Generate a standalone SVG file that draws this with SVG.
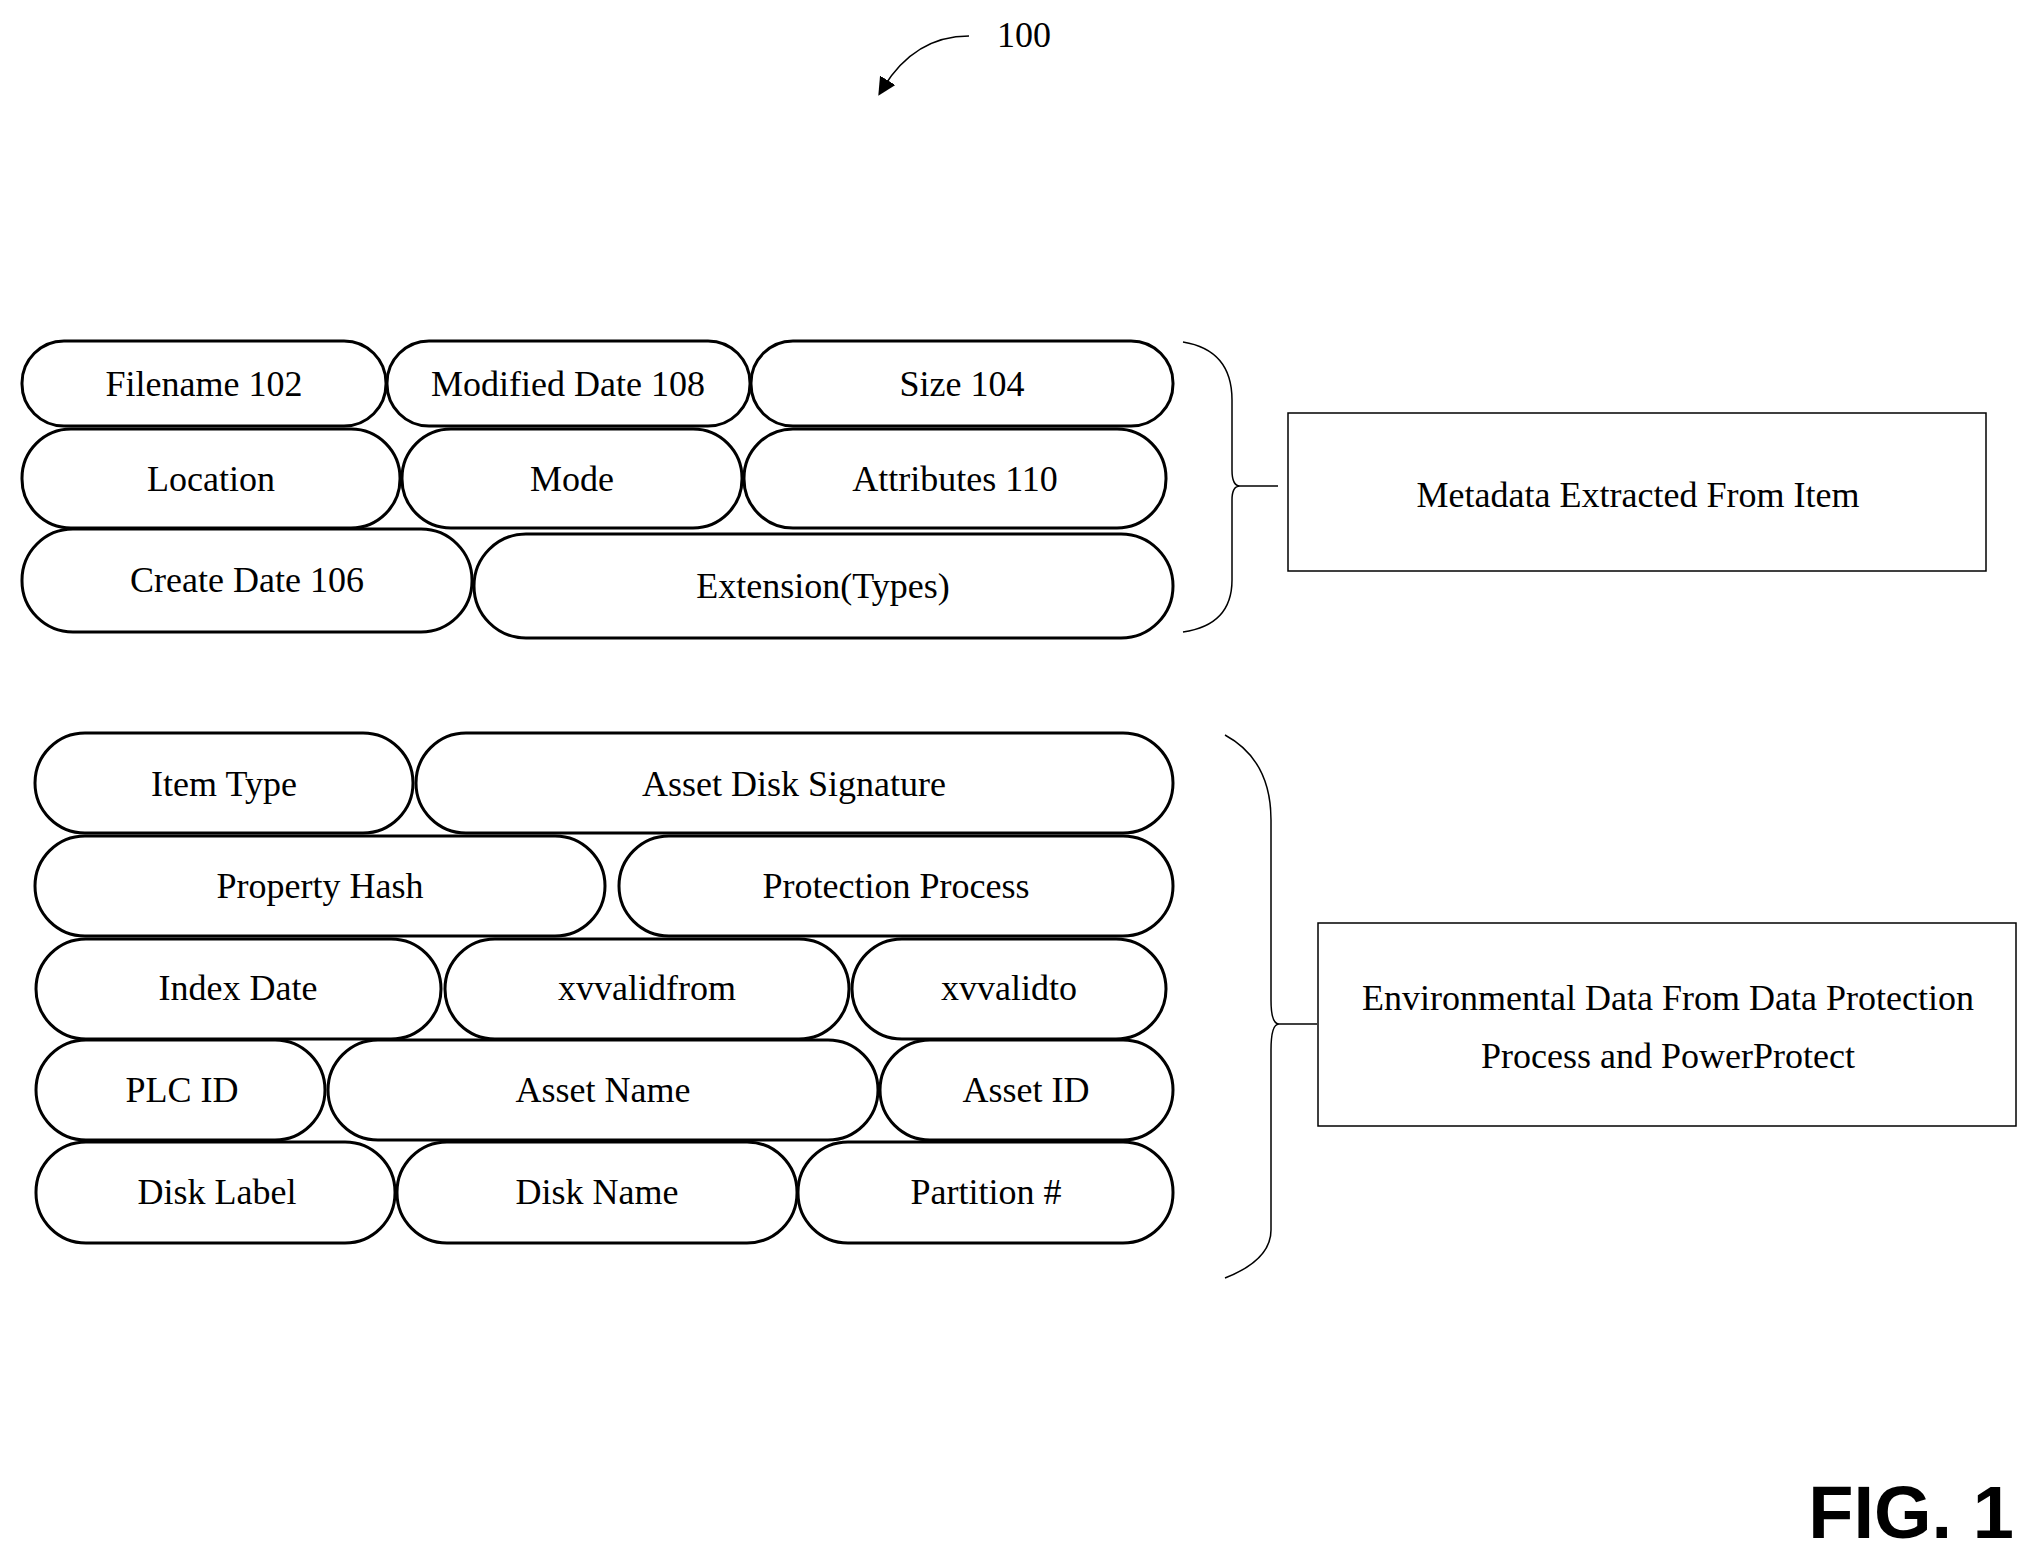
<svg xmlns="http://www.w3.org/2000/svg" width="2029" height="1554" viewBox="0 0 2029 1554">
<style>
.p{fill:#fff;stroke:#000;stroke-width:3}
.t{font-family:"Liberation Serif",serif;font-size:36px;text-anchor:middle;dominant-baseline:central;fill:#000}
.l{fill:none;stroke:#000;stroke-width:1.5}
.b{fill:#fff;stroke:#000;stroke-width:1.5}
</style>
<defs><marker id="a" markerWidth="12" markerHeight="12" refX="6" refY="6" orient="auto"><path d="M0,0 L12,6 L0,12 Z" fill="#000"/></marker></defs>
<text x="1024" y="35" class="t">100</text>
<g id="connectors">
<path class="l" d="M969,36 Q915,36 883,88" marker-end="url(#a)"/>
<path class="l" d="M1183,342 Q1232,350 1232,400 L1232,470 Q1232,486 1240,486 Q1232,486 1232,500 L1232,580 Q1232,625 1183,632"/>
<line class="l" x1="1240" y1="486" x2="1278" y2="486"/>
<path class="l" d="M1225,735 Q1271,760 1271,820 L1271,1000 Q1271,1024 1279,1024 Q1271,1024 1271,1050 L1271,1230 Q1271,1260 1225,1278"/>
<line class="l" x1="1279" y1="1024" x2="1317" y2="1024"/>
</g>
<g id="n1"><rect class="p" x="22" y="341" width="364" height="85" rx="42"/><text class="t" x="204" y="384">Filename 102</text></g>
<g id="n2"><rect class="p" x="387" y="341" width="363" height="85" rx="42"/><text class="t" x="568" y="384">Modified Date 108</text></g>
<g id="n3"><rect class="p" x="751" y="341" width="422" height="85" rx="42"/><text class="t" x="962" y="384">Size 104</text></g>
<g id="n4"><rect class="p" x="22" y="429" width="378" height="99" rx="49"/><text class="t" x="211" y="479">Location</text></g>
<g id="n5"><rect class="p" x="402" y="429" width="340" height="99" rx="49"/><text class="t" x="572" y="479">Mode</text></g>
<g id="n6"><rect class="p" x="744" y="429" width="422" height="99" rx="49"/><text class="t" x="955" y="479">Attributes 110</text></g>
<g id="n7"><rect class="p" x="22" y="529" width="450" height="103" rx="51"/><text class="t" x="247" y="580">Create Date 106</text></g>
<g id="n8"><rect class="p" x="474" y="534" width="699" height="104" rx="52"/><text class="t" x="823" y="586">Extension(Types)</text></g>
<g id="box1"><rect class="b" x="1288" y="413" width="698" height="158"/><text class="t" x="1638" y="495">Metadata Extracted From Item</text></g>
<g id="m1"><rect class="p" x="35" y="733" width="378" height="100" rx="50"/><text class="t" x="224" y="784">Item Type</text></g>
<g id="m2"><rect class="p" x="416" y="733" width="757" height="100" rx="50"/><text class="t" x="794" y="784">Asset Disk Signature</text></g>
<g id="m3"><rect class="p" x="35" y="836" width="570" height="100" rx="50"/><text class="t" x="320" y="886">Property Hash</text></g>
<g id="m4"><rect class="p" x="619" y="836" width="554" height="100" rx="50"/><text class="t" x="896" y="886">Protection Process</text></g>
<g id="m5"><rect class="p" x="36" y="939" width="405" height="100" rx="50"/><text class="t" x="238" y="988">Index Date</text></g>
<g id="m6"><rect class="p" x="445" y="939" width="404" height="100" rx="50"/><text class="t" x="647" y="988">xvvalidfrom</text></g>
<g id="m7"><rect class="p" x="852" y="939" width="314" height="100" rx="50"/><text class="t" x="1009" y="988">xvvalidto</text></g>
<g id="m8"><rect class="p" x="36" y="1040" width="289" height="100" rx="50"/><text class="t" x="182" y="1090">PLC ID</text></g>
<g id="m9"><rect class="p" x="328" y="1040" width="550" height="100" rx="50"/><text class="t" x="603" y="1090">Asset Name</text></g>
<g id="m10"><rect class="p" x="880" y="1040" width="293" height="100" rx="50"/><text class="t" x="1026" y="1090">Asset ID</text></g>
<g id="m11"><rect class="p" x="36" y="1142" width="359" height="101" rx="50"/><text class="t" x="217" y="1192">Disk Label</text></g>
<g id="m12"><rect class="p" x="397" y="1142" width="400" height="101" rx="50"/><text class="t" x="597" y="1192">Disk Name</text></g>
<g id="m13"><rect class="p" x="798" y="1142" width="375" height="101" rx="50"/><text class="t" x="986" y="1192">Partition #</text></g>
<g id="box2"><rect class="b" x="1318" y="923" width="698" height="203"/><text class="t" x="1668" y="998">Environmental Data From Data Protection</text><text class="t" x="1668" y="1056">Process and PowerProtect</text></g>
<text x="1911" y="1538" style="font-family:'Liberation Sans',sans-serif;font-weight:bold;font-size:74px;text-anchor:middle">FIG. 1</text>
</svg>
